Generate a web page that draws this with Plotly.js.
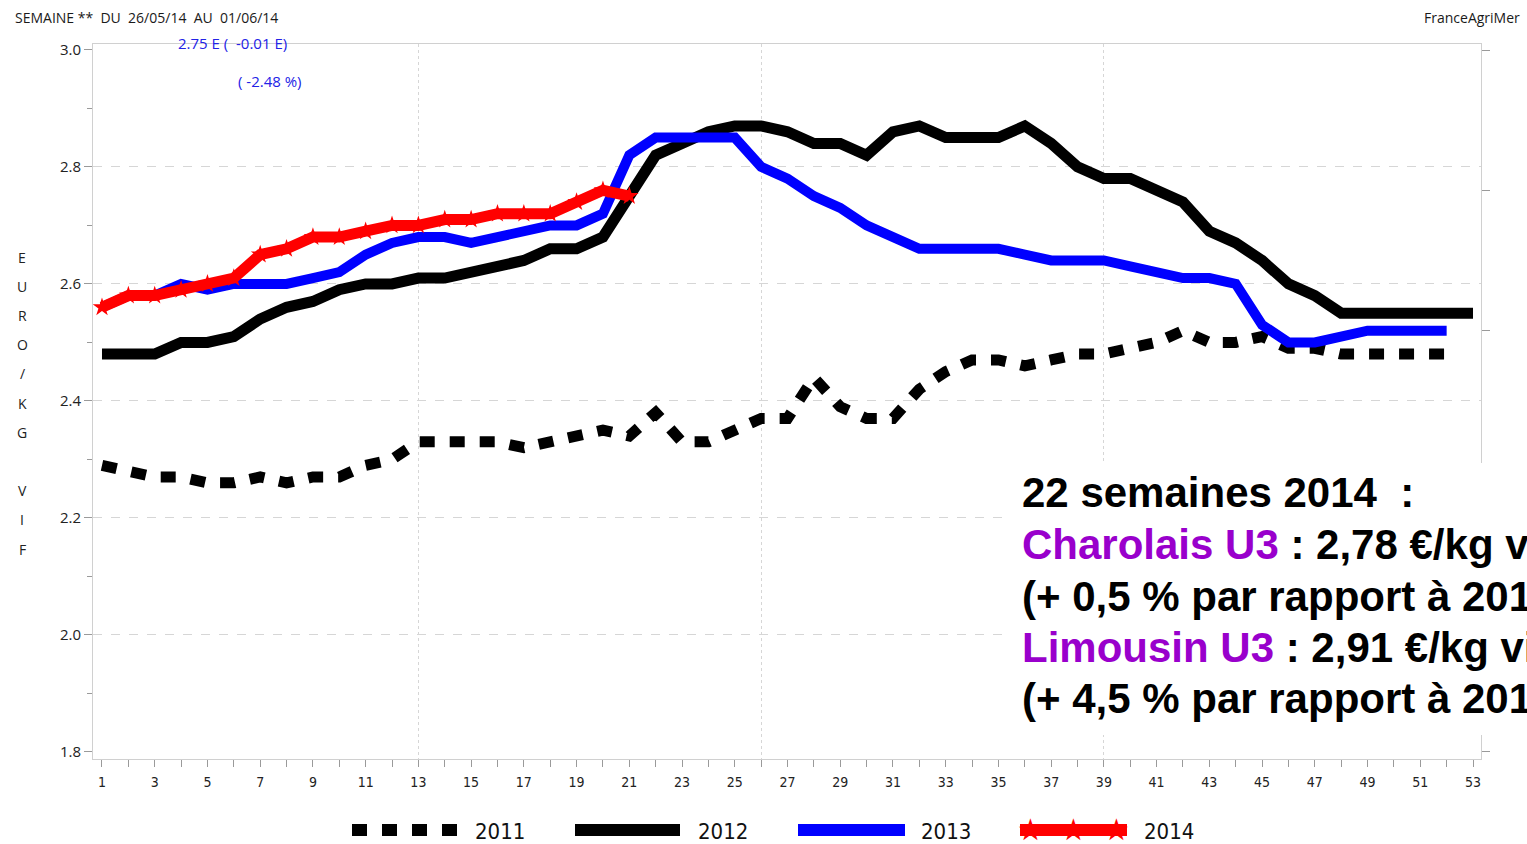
<!DOCTYPE html>
<html>
<head>
<meta charset="utf-8">
<script src="https://cdn.plot.ly/plotly-3.0.1.min.js"></script>
<style>
html,body{margin:0;padding:0;background:#fff;}
#chart{width:1527px;height:844px;}
</style>
</head>
<body>
<div id="chart"></div>
<script>
// ---------------- DATA ----------------
const weeks = [1,2,3,4,5,6,7,8,9,10,11,12,13,14,15,16,17,18,19,20,21,22,23,24,25,26,27,28,29,30,31,32,33,34,35,36,37,38,39,40,41,42,43,44,45,46,47,48,49,50,51,52,53];

const values2011 = [2.29,2.28,2.27,2.27,2.26,2.26,2.27,2.26,2.27,2.27,
                    2.29,2.30,2.33,2.33,2.33,2.33,2.32,2.33,2.34,2.35,
                    2.34,2.38,2.33,2.33,2.35,2.37,2.37,2.44,2.39,2.37,
                    2.37,2.42,2.45,2.47,2.47,2.46,2.47,2.48,2.48,2.49,
                    2.50,2.52,2.50,2.50,2.51,2.49,2.49,2.48,2.48,2.48,
                    2.48,2.48];

const values2012 = [2.48,2.48,2.48,2.50,2.50,2.51,2.54,2.56,2.57,2.59,
                    2.60,2.60,2.61,2.61,2.62,2.63,2.64,2.66,2.66,2.68,
                    2.75,2.82,2.84,2.86,2.87,2.87,2.86,2.84,2.84,2.82,
                    2.86,2.87,2.85,2.85,2.85,2.87,2.84,2.80,2.78,2.78,
                    2.76,2.74,2.69,2.67,2.64,2.60,2.58,2.55,2.55,2.55,
                    2.55,2.55,2.55];

const values2013 = [2.56,2.58,2.58,2.60,2.59,2.60,2.60,2.60,2.61,2.62,
                    2.65,2.67,2.68,2.68,2.67,2.68,2.69,2.70,2.70,2.72,
                    2.82,2.85,2.85,2.85,2.85,2.80,2.78,2.75,2.73,2.70,
                    2.68,2.66,2.66,2.66,2.66,2.65,2.64,2.64,2.64,2.63,
                    2.62,2.61,2.61,2.60,2.53,2.50,2.50,2.51,2.52,2.52,
                    2.52,2.52];

const values2014 = [2.56,2.58,2.58,2.59,2.60,2.61,2.65,2.66,2.68,2.68,
                    2.69,2.70,2.70,2.71,2.71,2.72,2.72,2.72,2.74,2.76,
                    2.75];

const seriesNames = ['2011','2012','2013','2014'];
const gridWeeks = [13,26,39];
const gridValues = [2.0,2.2,2.4,2.6,2.8];

const headerText = 'SEMAINE **\u00a0 DU \u00a026/05/14 \u00a0AU \u00a001/06/14';
const sourceText = 'FranceAgriMer';
const lastValueText = '2.75 E ( \u00a0-0.01 E)';
const lastPctText = '( -2.48 %)';
const yTitleLetters = ['E','U','R','O','/','K','G','','V','I','F'];

const boxLines = [
  '22 semaines 2014 \u00a0:',
  '<span style="color:#9900cc">Charolais U3</span> : 2,78 €/kg vif',
  '(+ 0,5 % par rapport à 2013)',
  '<span style="color:#9900cc">Limousin U3</span> : 2,91 €/kg vif',
  '(+ 4,5 % par rapport à 2013)'
];

// ---------------- LAYOUT GEOMETRY ----------------
const W = 1527, H = 844;
const M = {l:93, r:46, t:44, b:85};
const PW = W - M.l - M.r, PH = H - M.t - M.b;
const px = x => (x - M.l) / PW;          // pixel -> paper x
const py = y => (H - M.b - y) / PH;      // pixel -> paper y

const narrow = '"Liberation Sans Narrow", "DejaVu Sans Condensed", "Arial Narrow", sans-serif';
const sans = '"Open Sans", "Noto Sans", sans-serif';

const styles = {
  '2011': {color:'#000000', width:11, dash:'15px,15px'},
  '2012': {color:'#000000', width:11, dash:'solid'},
  '2013': {color:'#0000ff', width:10, dash:'solid'},
  '2014': {color:'#ff0000', width:11, dash:'solid'}
};
const seriesValues = {'2011':values2011,'2012':values2012,'2013':values2013,'2014':values2014};

const traces = seriesNames.map(name => {
  const v = seriesValues[name];
  const st = styles[name];
  const t = {
    type:'scatter', name:name, x:weeks.slice(0, v.length), y:v,
    mode: name === '2014' ? 'lines+markers' : 'lines',
    line:{color:st.color, width:st.width, dash:st.dash},
    showlegend:false, hoverinfo:'x+y'
  };
  if (name === '2014') t.marker = {symbol:'star', size:14, color:'#ff0000', line:{width:0}};
  return t;
});
// helper (empty) traces for overlay axes: grid axes and right tick axis
traces.unshift({type:'scatter', x:[], y:[], xaxis:'x2', yaxis:'y3', showlegend:false, hoverinfo:'skip'});
traces.unshift({type:'scatter', x:[], y:[], xaxis:'x', yaxis:'y2', showlegend:false, hoverinfo:'skip'});

const xRange = [0.659, 53.303];
const yRange = [1.788, 3.010];

const annotations = [];
annotations.push({xref:'paper', yref:'paper', x:px(13), y:py(17), xanchor:'left', yanchor:'middle',
  text:headerText, showarrow:false, font:{family:sans, size:14, color:'#1a1a1a'}});
annotations.push({xref:'paper', yref:'paper', x:px(1522), y:py(17), xanchor:'right', yanchor:'middle',
  text:sourceText, showarrow:false, font:{family:sans, size:14, color:'#1a1a1a'}});
annotations.push({xref:'paper', yref:'paper', x:px(176), y:py(43), xanchor:'left', yanchor:'middle',
  text:lastValueText, showarrow:false, font:{family:sans, size:15, color:'#2222e6'}});
annotations.push({xref:'paper', yref:'paper', x:px(236), y:py(81), xanchor:'left', yanchor:'middle',
  text:lastPctText, showarrow:false, font:{family:sans, size:15, color:'#2222e6'}});

yTitleLetters.forEach((ch, i) => {
  if (!ch) return;
  annotations.push({xref:'paper', yref:'paper', x:px(22), y:py(257 + i*29.2), xanchor:'center', yanchor:'middle',
    text:ch, showarrow:false, font:{family:sans, size:14, color:'#222'}});
});

const boxLineY = [492, 544, 596, 647, 698];
boxLines.forEach((txt, i) => {
  annotations.push({xref:'paper', yref:'paper', x:px(1020), y:py(boxLineY[i]), xanchor:'left', yanchor:'middle',
    text:'<b>' + txt + '</b>', showarrow:false, align:'left',
    font:{family:'"Liberation Sans", Arial, sans-serif', size:42, color:'#000'}});
});

// manual legend
const legendY = py(830);
const legendItems = [
  {name:'2011', x0:352, x1:457, tx:473},
  {name:'2012', x0:575, x1:680, tx:696},
  {name:'2013', x0:798, x1:905, tx:919},
  {name:'2014', x0:1020, x1:1127, tx:1142}
];
const shapes = [];
shapes.push({type:'rect', xref:'paper', yref:'paper', x0:px(1010), x1:px(1540), y0:py(735), y1:py(463),
  fillcolor:'#ffffff', line:{width:0}, layer:'above'});
legendItems.forEach(it => {
  const st = styles[it.name];
  shapes.push({type:'line', xref:'paper', yref:'paper', x0:px(it.x0), x1:px(it.x1), y0:legendY, y1:legendY,
    line:{color:st.color, width:12, dash:st.dash}, layer:'above'});
  annotations.push({xref:'paper', yref:'paper', x:px(it.tx), y:py(831), xanchor:'left', yanchor:'middle',
    text:it.name, showarrow:false, font:{family:narrow, size:22, color:'#111'}});
});
[1030, 1073, 1116].forEach(sx => {
  annotations.push({xref:'paper', yref:'paper', x:px(sx), y:py(829), xanchor:'center', yanchor:'middle',
    text:'\u2605', showarrow:false, font:{family:'"DejaVu Sans", sans-serif', size:30, color:'#ff0000'}});
});

const layout = {
  width:W, height:H,
  margin:{l:M.l, r:M.r, t:M.t, b:M.b, pad:0},
  paper_bgcolor:'#ffffff', plot_bgcolor:'#ffffff',
  font:{family:sans, size:13, color:'#222'},
  showlegend:false,
  xaxis:{
    range:xRange, tickmode:'linear', tick0:1, dtick:2,
    ticks:'outside', ticklen:7, tickwidth:1, tickcolor:'#9a9a9a',
    showgrid:false, zeroline:false, showline:true, linecolor:'#d0d0d0', linewidth:1, mirror:true,
    tickfont:{family:narrow, size:14, color:'#222'}, ticklabelstandoff:3,
    minor:{tick0:1, dtick:1, ticks:'outside', ticklen:7, tickcolor:'#9a9a9a', showgrid:false}
  },
  xaxis2:{
    range:xRange, overlaying:'x', anchor:'y', tickmode:'array', tickvals:gridWeeks,
    showticklabels:false, ticks:'', showgrid:true, gridcolor:'#d6d6d6', griddash:'dot', gridwidth:1,
    zeroline:false, showline:false
  },
  yaxis:{
    range:yRange, tickmode:'linear', tick0:1.8, dtick:0.2, tickformat:'.1f',
    ticks:'outside', ticklen:8, tickwidth:1, tickcolor:'#9a9a9a',
    showgrid:false, zeroline:false, showline:true, linecolor:'#d0d0d0', linewidth:1, mirror:true,
    tickfont:{family:sans, size:15, color:'#222'},
    minor:{tick0:1.8, dtick:0.1, ticks:'outside', ticklen:5, tickcolor:'#9a9a9a', showgrid:false}
  },
  yaxis2:{
    overlaying:'y', side:'right', anchor:'x', range:[-0.0499, 5.0427], tickmode:'linear', tick0:0, dtick:1,
    ticks:'outside', ticklen:8, tickcolor:'#9a9a9a', showticklabels:false,
    showgrid:false, zeroline:false, showline:false
  },
  yaxis3:{
    overlaying:'y', anchor:'x2', range:yRange, tickmode:'array', tickvals:gridValues,
    showticklabels:false, ticks:'', showgrid:true, gridcolor:'#d6d6d6', griddash:'dash', gridwidth:1,
    zeroline:false, showline:false
  },
  annotations:annotations,
  shapes:shapes
};

Plotly.newPlot('chart', traces, layout, {displayModeBar:false, staticPlot:true});
</script>
</body>
</html>
